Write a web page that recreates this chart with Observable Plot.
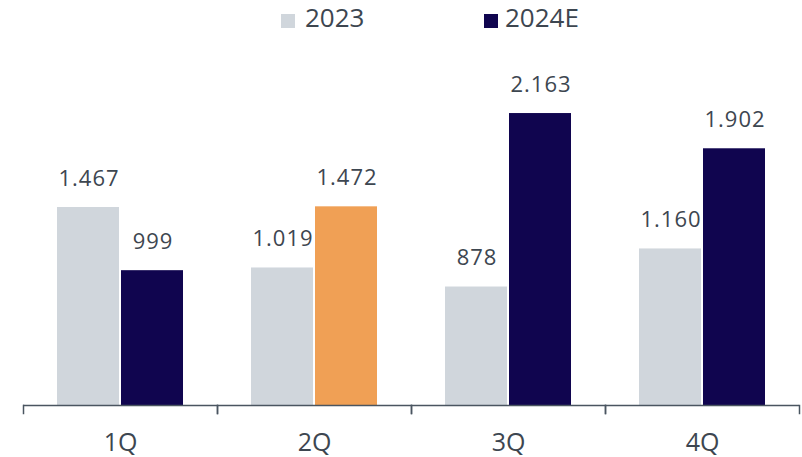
<!DOCTYPE html>
<html>
<head>
<meta charset="utf-8">
<script src="https://cdn.jsdelivr.net/npm/d3@7"></script>
<script src="https://cdn.jsdelivr.net/npm/@observablehq/plot@0.6"></script>
<style>
  html, body { margin: 0; padding: 0; background: #ffffff; }
  #wrap { width: 802px; height: 457px; position: relative; overflow: hidden; font-family: "Open Sans", sans-serif; }
  #legend { position: relative; height: 40px; }
  .sw { position: absolute; top: 14px; width: 14px; height: 14px; }
  .lt { position: absolute; top: 0px; font-size: 26px; line-height: 34px; color: #3d4650; white-space: nowrap; }
  #chart g[aria-label="text"] text { letter-spacing: 1px; }
</style>
</head>
<body>
<div id="wrap">
  <div id="legend"></div>
  <div id="chart"></div>
</div>
<script>
const quarters = ["1Q", "2Q", "3Q", "4Q"];
const seriesNames = ["2023", "2024E"];
const values2023 = [1467, 1019, 878, 1160];
const values2024E = [999, 1472, 2163, 1902];
const highlightQuarter = "2Q";
const highlightSeries = "2024E";
const seriesColors = ["#d0d6dc", "#10054f"];
const highlightColor = "#f0a055";
const textColor = "#3d4650";

const rows = [];
quarters.forEach((q, i) => {
  rows.push({quarter: q, series: seriesNames[0], value: values2023[i]});
  rows.push({quarter: q, series: seriesNames[1], value: values2024E[i]});
});

const fmt = d3.formatLocale({decimal: ",", thousands: ".", grouping: [3], currency: ["", "€"]}).format(",d");
const colorOf = d => (d.quarter === highlightQuarter && d.series === highlightSeries)
  ? highlightColor : seriesColors[seriesNames.indexOf(d.series)];

// legend
const legend = document.getElementById("legend");
const legendPos = [[281, 305], [484, 505]];
seriesNames.forEach((s, i) => {
  const sw = document.createElement("div");
  sw.className = "sw";
  sw.style.left = legendPos[i][0] + "px";
  sw.style.background = seriesColors[i];
  legend.appendChild(sw);
  const t = document.createElement("div");
  t.className = "lt";
  t.style.left = legendPos[i][1] + "px";
  t.textContent = s;
  legend.appendChild(t);
});

const chart = Plot.plot({
  width: 802,
  height: 417,
  marginLeft: 22,
  marginRight: 2,
  marginTop: 10,
  marginBottom: 44,
  style: {fontFamily: "Open Sans", background: "#ffffff", color: textColor},
  fx: {domain: quarters, padding: 0, axis: null},
  x: {domain: seriesNames, paddingInner: 0.031, paddingOuter: 0.5115, axis: null},
  y: {domain: [-59, 2630], axis: null},
  marks: [
    Plot.barY(rows, {fx: "quarter", x: "series", y: "value", fill: colorOf}),
    Plot.text(rows, {fx: "quarter", x: "series", y: "value", text: d => fmt(d.value),
      dy: -29, dx: 0.5, fontSize: 22, fill: textColor}),
    Plot.ruleY([0], {stroke: "#4a5560", strokeWidth: 1.5}),
    Plot.frame({anchor: "left", insetTop: 355, stroke: "#4a5560", strokeWidth: 1.5}),
    Plot.frame({anchor: "right", insetTop: 355, stroke: "#4a5560", strokeWidth: 1.5}),
    Plot.axisFx({anchor: "bottom", tickSize: 0, tickPadding: 20, fontSize: 25, label: null, fill: textColor})
  ]
});
document.getElementById("chart").appendChild(chart);
</script>
</body>
</html>
